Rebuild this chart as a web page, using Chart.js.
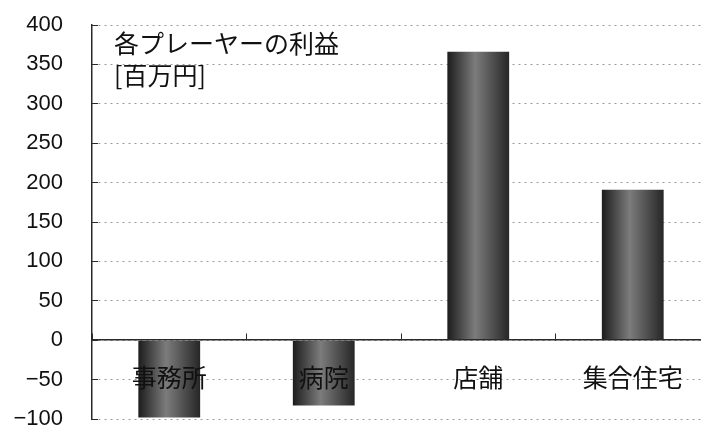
<!DOCTYPE html>
<html>
<head>
<meta charset="utf-8">
<script src="https://cdn.jsdelivr.net/npm/chart.js@4"></script>
<style>
  html, body { margin: 0; padding: 0; background: #fff; overflow: hidden; }
  #wrap { position: relative; width: 710px; height: 430px; }
  #note {
    position: absolute; left: 114px; top: 26px;
    font-family: "Noto Sans CJK JP", sans-serif; font-size: 25px; line-height: 32px;
    color: #111; white-space: nowrap;
  }
</style>
</head>
<body>
<div id="wrap">
  <canvas id="profitChart"></canvas>
  <div id="note">各プレーヤーの利益<br>[百万円]</div>
</div>
<script>
const categories = ['事務所', '病院', '店舗', '集合住宅'];
const profits = [-98, -83, 366, 191];
const yMin = -100;
const yMax = 400;
const yStep = 50;

const COLORS = {
  axis: '#2a2a2a',
  grid: '#9a9a9a',
  text: '#111111'
};

// dark edges, lighter middle like the scanned bars
function barFill(ctx) {
  const el = ctx.element;
  if (!el || !isFinite(el.x) || !el.width) return '#555';
  const g = ctx.chart.ctx.createLinearGradient(el.x - el.width / 2, 0, el.x + el.width / 2, 0);
  g.addColorStop(0, '#1c1c1c');
  g.addColorStop(0.45, '#7c7c7c');
  g.addColorStop(1, '#262626');
  return g;
}

const chart = new Chart(document.getElementById('profitChart'), {
  type: 'bar',
  data: {
    labels: categories,
    datasets: [{
      data: profits,
      backgroundColor: barFill,
      borderWidth: 0,
      barPercentage: 0.4,
      categoryPercentage: 1
    }]
  },
  options: {
    responsive: true,
    maintainAspectRatio: false,
    animation: false,
    layout: { padding: { left: 13, top: 25, right: 0, bottom: 11 } },
    plugins: {
      legend: { display: false },
      tooltip: { enabled: false }
    },
    scales: {
      x: {
        position: { y: 0 },
        offset: true,
        afterFit: s => { s.height = 0; s.paddingLeft = 0; s.paddingRight = 0; },
        grid: {
          drawOnChartArea: false,
          tickLength: -7,
          color: COLORS.axis,
          lineWidth: 1,
          z: 1
        },
        border: { display: true, color: COLORS.axis, width: 1.5, z: 1 },
        ticks: {
          z: 1,
          color: COLORS.text,
          padding: 29,
          font: { family: '"Noto Sans CJK JP", sans-serif', size: 25 }
        }
      },
      y: {
        min: yMin,
        max: yMax,
        // fixed width, and no extra room above/below for the tick labels
        afterFit: s => { s.width = 79; s.paddingTop = 0; s.paddingBottom = 0; },
        grid: {
          color: COLORS.grid,
          tickColor: COLORS.axis,
          tickLength: -6,
          lineWidth: 1
        },
        border: { display: true, color: COLORS.axis, width: 1.5, dash: [2, 4] },
        ticks: {
          stepSize: yStep,
          color: COLORS.text,
          padding: 35,
          font: { family: '"Liberation Sans", Arial, sans-serif', size: 22, lineHeight: 1 },
          callback: v => String(v).replace('-', '\u2212')
        }
      }
    }
  }
});
// second pass so the gradient can read each bar's position
chart.update();
</script>
</body>
</html>
